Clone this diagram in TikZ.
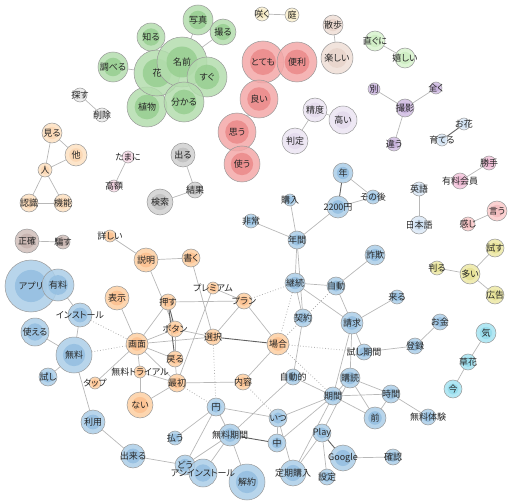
\documentclass[tikz,border=0pt]{standalone}
\usepackage{fontspec}
\setmainfont{Noto Sans CJK JP}[RawFeature={+palt}]
\usetikzlibrary{backgrounds}
\pgfdeclarelayer{foreground}
\pgfsetlayers{background,main,foreground}
\definecolor{GL}{RGB}{180,221,174}\definecolor{GD}{RGB}{152,207,145}
\definecolor{RL}{RGB}{243,168,168}\definecolor{RD}{RGB}{236,138,138}
\definecolor{BL}{RGB}{172,206,232}\definecolor{BD}{RGB}{148,191,225}
\definecolor{OL}{RGB}{253,207,162}\definecolor{OD}{RGB}{252,193,143}
\definecolor{KL}{RGB}{208,208,208}\definecolor{KD}{RGB}{192,192,192}
\definecolor{VL}{RGB}{235,228,242}\definecolor{VD}{RGB}{227,218,237}
\definecolor{PL}{RGB}{208,188,226}\definecolor{PD}{RGB}{198,176,220}
\definecolor{NL}{RGB}{216,243,206}\definecolor{ND}{RGB}{206,238,195}
\definecolor{ML}{RGB}{242,195,218}\definecolor{MD}{RGB}{236,182,208}
\definecolor{SL}{RGB}{250,202,202}\definecolor{SD}{RGB}{244,188,190}
\definecolor{YL}{RGB}{236,232,165}\definecolor{YD}{RGB}{230,225,148}
\definecolor{CL}{RGB}{165,227,241}\definecolor{CD}{RGB}{150,220,236}
\definecolor{EL}{RGB}{239,222,214}\definecolor{ED}{RGB}{232,212,203}
\definecolor{WL}{RGB}{208,190,186}\definecolor{WD}{RGB}{198,178,174}
\definecolor{HL}{RGB}{253,224,193}\definecolor{HD}{RGB}{251,214,178}
\definecolor{IL}{RGB}{218,232,246}\definecolor{ID}{RGB}{205,223,242}
\definecolor{JL}{RGB}{250,240,207}\definecolor{JD}{RGB}{246,232,190}
\definecolor{XL}{RGB}{234,234,234}\definecolor{XD}{RGB}{224,224,224}
\definecolor{QL}{RGB}{246,218,230}\definecolor{QD}{RGB}{240,205,220}
\tikzset{
  vn/.style={circle, draw=black!40, line width=0.5pt, inner sep=0pt, outer sep=0pt, fill opacity=0.85},
  lab/.style={font=\fontsize{9}{10}\selectfont, text=black!85, inner sep=0pt},
  ed/.style={draw=black!28, line width=0.7pt},
  edd/.style={draw=black!62, line width=0.9pt},
  edt/.style={draw=black!30, line width=0.8pt, dotted},
}
\newcommand{\vn}[6]{%
  \node[vn, minimum size={2*#4pt}, fill=#5L,
    path picture={\fill[#5D] (path picture bounding box.center) circle ({0.62*#4pt});}]
    (#1) at (#2,#3) {};
  \begin{pgfonlayer}{foreground}\node[lab] (#1t) at (#2,#3) {#6};\end{pgfonlayer}}
\begin{document}
\begin{tikzpicture}[x=1pt,y=-1pt]
\useasboundingbox (0,0) rectangle (512,503);
% green
\vn{chiru}{151}{37}{14}{G}{知る}
\vn{shiraberu}{113}{67}{15}{G}{調べる}
\vn{shokubutsu}{147}{107}{20}{G}{植物}
\vn{hana}{157}{73}{23}{G}{花}
\vn{shashin}{198}{20}{15}{G}{写真}
\vn{toru}{223}{32}{13}{G}{撮る}
\vn{namae}{182}{62}{25}{G}{名前}
\vn{sugu}{207}{77}{20}{G}{すぐ}
\vn{wakaru}{184}{102}{20}{G}{分かる}
% red
\vn{totemo}{263}{62}{21}{R}{とても}
\vn{benri}{297}{62}{20}{R}{便利}
\vn{yoi}{259}{99}{19}{R}{良い}
\vn{omou}{237}{132}{19}{R}{思う}
\vn{tsukau}{242}{164}{18}{R}{使う}
% small groups
\vn{saku}{262}{14}{7}{J}{咲く}
\vn{niwa}{292}{15}{7}{J}{庭}
\vn{sanpo}{333}{25}{10}{E}{散歩}
\vn{tanoshii}{337}{58}{16}{E}{楽しい}
\vn{seido}{315}{110}{12}{V}{精度}
\vn{takai}{343}{120}{14}{V}{高い}
\vn{hantei}{295}{141}{13}{V}{判定}
\vn{suguni}{375}{41}{10}{N}{直ぐに}
\vn{ureshii}{405}{58}{10}{N}{嬉しい}
\vn{betsu}{374}{89}{6}{P}{別}
\vn{mattaku}{436}{88}{6}{P}{全く}
\vn{satsuei}{405}{108}{9}{P}{撮影}
\vn{chigau}{394}{144}{7}{P}{違う}
\vn{ohana}{464}{124}{6}{I}{お花}
\vn{sodateru}{442}{140}{6}{I}{育てる}
\vn{katte}{489}{163}{7}{M}{勝手}
\vn{yuryokaiin}{460}{181}{8}{M}{有料会員}
\vn{iu}{497}{211}{10}{S}{言う}
\vn{kanji}{468}{224}{7}{S}{感じ}
\vn{eigo}{419}{189}{7}{I}{英語}
\vn{nihongo}{419}{225}{9}{I}{日本語}
\vn{tamesu}{495}{248}{9}{Y}{試す}
\vn{hakaru}{437}{268}{7}{Y}{判る}
\vn{ooi}{470}{274}{10}{Y}{多い}
\vn{kokoku}{495}{295}{9}{Y}{広告}
\vn{ki}{486}{333}{10}{C}{気}
\vn{kusabana}{468}{362}{8}{C}{草花}
\vn{ima}{453}{389}{9}{C}{今}
\vn{miru}{52}{133}{10}{H}{見る}
\vn{hoka}{76}{155}{11}{H}{他}
\vn{hito}{45}{170}{7}{H}{人}
\vn{ninshiki}{29}{203}{9}{H}{認識}
\vn{kinou}{63}{203}{9}{H}{機能}
\vn{sagasu}{80}{95}{7}{X}{探す}
\vn{sakujo}{102}{115}{7}{X}{削除}
\vn{tamani}{128}{157}{6}{Q}{たまに}
\vn{kougaku}{114}{186}{6}{Q}{高額}
\vn{deru}{183}{155}{12}{K}{出る}
\vn{kekka}{195}{190}{8}{K}{結果}
\vn{kensaku}{160}{202}{13}{K}{検索}
\vn{seikaku}{27}{241}{12}{W}{正確}
\vn{damasu}{63}{242}{7}{W}{騙す}
% orange
\vn{kuwashii}{110}{236}{6}{O}{詳しい}
\vn{setsumei}{146}{260}{12}{O}{説明}
\vn{kaku}{191}{258}{9}{O}{書く}
\vn{hyouji}{117}{298}{12}{O}{表示}
\vn{osu}{168}{302}{8}{O}{押す}
\vn{premium}{213}{288}{6}{O}{プレミアム}
\vn{plan}{244}{301}{8}{O}{プラン}
\vn{button}{175}{329}{8}{O}{ボタン}
\vn{gamen}{137}{344}{11}{O}{画面}
\vn{sentaku}{213}{337}{8}{O}{選択}
\vn{modoru}{175}{359}{8}{O}{戻る}
\vn{trial}{140}{372}{6}{O}{無料トライアル}
\vn{tap}{95}{383}{6}{O}{タップ}
\vn{saisho}{177}{383}{9}{O}{最初}
\vn{nai}{140}{405}{13}{O}{ない}
\vn{baai}{278}{344}{11}{O}{場合}
\vn{naiyou}{243}{382}{8}{O}{内容}
% blue
\vn{apuri}{31}{286}{26}{B}{アプリ}
\vn{yuryo}{58}{285}{16}{B}{有料}
\vn{install}{80}{315}{12}{B}{インストール}
\vn{tsukaeru}{35}{332}{14}{B}{使える}
\vn{muryo}{74}{355}{18}{B}{無料}
\vn{tameshi}{48}{377}{9}{B}{試し}
\vn{riyou}{93}{422}{12}{B}{利用}
\vn{dekiru}{133}{456}{12}{B}{出来る}
\vn{harau}{175}{438}{7}{B}{払う}
\vn{en}{216}{407}{9}{B}{円}
\vn{muryokikan}{230}{435}{11}{B}{無料期間}
\vn{dou}{185}{465}{10}{B}{どう}
\vn{uninstall}{203}{473}{14}{B}{アンインストール}
\vn{kaiyaku}{247}{482}{18}{B}{解約}
\vn{itsu}{278}{418}{9}{B}{いつ}
\vn{naka}{277}{443}{9}{B}{中}
\vn{teiki}{293}{473}{13}{B}{定期購入}
\vn{jidouteki}{293}{377}{8}{B}{自動的}
\vn{kikan}{333}{396}{9}{B}{期間}
\vn{play}{322}{433}{9}{B}{Play}
\vn{google}{343}{458}{13}{B}{Google}
\vn{settei}{327}{477}{8}{B}{設定}
\vn{kakunin}{393}{457}{8}{B}{確認}
\vn{koudoku}{350}{378}{10}{B}{購読}
\vn{jikan}{391}{394}{9}{B}{時間}
\vn{mae}{375}{418}{11}{B}{前}
\vn{muryotaiken}{428}{417}{8}{B}{無料体験}
\vn{tameshikikan}{364}{352}{8}{B}{試し期間}
\vn{seikyu}{352}{323}{11}{B}{請求}
\vn{kuru}{397}{297}{7}{B}{来る}
\vn{okane}{440}{322}{8}{B}{お金}
\vn{touroku}{415}{346}{8}{B}{登録}
\vn{sagi}{375}{255}{10}{B}{詐欺}
\vn{jidou}{336}{286}{9}{B}{自動}
\vn{keizoku}{295}{283}{10}{B}{継続}
\vn{keiyaku}{303}{318}{9}{B}{契約}
\vn{nenkan}{297}{240}{9}{B}{年間}
\vn{hijou}{251}{221}{7}{B}{非常}
\vn{kounyu}{290}{200}{6}{B}{購入}
\vn{enb}{338}{207}{11}{B}{2200円}
\vn{nen}{343}{173}{10}{B}{年}
\vn{sonogo}{373}{197}{7}{B}{その後}
\begin{scope}[on background layer]
\foreach \a/\b in {hana/shiraberu,hana/chiru,hana/namae,hana/shokubutsu,hana/wakaru,
  namae/shashin,namae/toru,namae/sugu,namae/wakaru,sugu/wakaru,sagasu/sakujo,
  totemo/benri,totemo/yoi,yoi/omou,omou/tsukau,saku/niwa,sanpo/tanoshii,
  seido/takai,seido/hantei,suguni/ureshii,satsuei/betsu,satsuei/mattaku,satsuei/chigau,
  katte/yuryokaiin,iu/kanji,eigo/nihongo,ooi/tamesu,ooi/hakaru,ooi/kokoku,
  ki/kusabana,kusabana/ima,miru/hoka,miru/hito,hito/hoka,hito/ninshiki,hito/kinou,
  ninshiki/kinou,tamani/kougaku,deru/kekka,kekka/kensaku,seikaku/damasu,
  nen/sonogo,enb/sonogo,enb/nenkan,kounyu/nenkan,hijou/nenkan,nenkan/keizoku,nenkan/keiyaku,
  keizoku/jidou,keizoku/keiyaku,keizoku/seikyu,jidou/seikyu,sagi/jidou,seikyu/kuru,
  seikyu/tameshikikan,seikyu/koudoku,seikyu/kikan,tameshikikan/touroku,touroku/okane,
  koudoku/jikan,koudoku/kikan,koudoku/mae,kikan/jikan,kikan/mae,jikan/mae,jikan/muryotaiken,
  keiyaku/jidouteki,jidouteki/kikan,kikan/itsu,kikan/naka,itsu/naka,itsu/teiki,en/itsu,
  en/harau,en/muryokikan,en/dou,muryokikan/kaiyaku,muryokikan/uninstall,muryokikan/dou,
  muryokikan/jidouteki,teiki/play,play/settei,play/koudoku,google/kakunin,teiki/kikan,
  uninstall/dou,dekiru/dou,riyou/dekiru,muryo/riyou,muryo/tsukaeru,muryo/tameshi,
  muryo/install,yuryo/install,apuri/yuryo,
  setsumei/kaku,setsumei/kuwashii,setsumei/button,kaku/sentaku,hyouji/gamen,osu/plan,
  osu/gamen,button/gamen,button/sentaku,button/modoru,gamen/sentaku,gamen/modoru,
  gamen/saisho,gamen/trial,gamen/tap,premium/plan,premium/saisho,plan/sentaku,plan/baai,
  baai/naiyou,saisho/naiyou,nai/saisho,nai/trial,trial/saisho,modoru/saisho}
  \draw[ed] (\a) -- (\b);
\foreach \a/\b in {nen/enb,ohana/sodateru,osu/button,osu/modoru,sentaku/baai,
  play/google,muryokikan/naka}
  \draw[edd] (\a) -- (\b);
\foreach \a/\b in {muryo/gamen,install/gamen,plan/keizoku,keizoku/baai,sentaku/en,
  baai/tameshikikan,baai/kikan,naiyou/itsu,saisho/en,jidou/baai}
  \draw[edt] (\a) -- (\b);
\end{scope}
\end{tikzpicture}
\end{document}
